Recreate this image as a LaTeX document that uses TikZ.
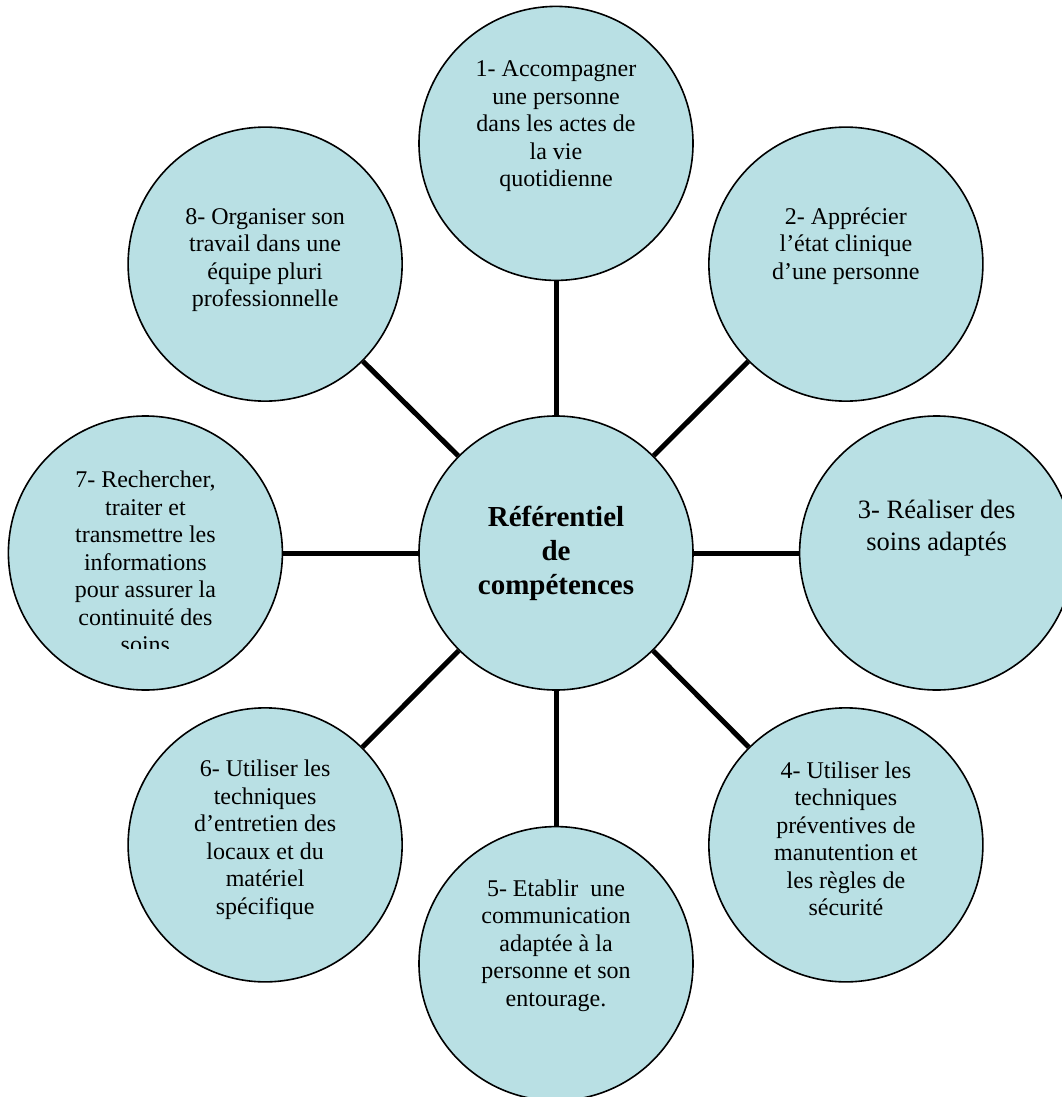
\documentclass[tikz,border=0pt]{standalone}
\usepackage{fontspec}
\setmainfont{Liberation Serif}
\usetikzlibrary{positioning}
\definecolor{bubblefill}{RGB}{185,224,228}

\begin{document}
\begin{tikzpicture}[x=1pt,y=-1pt,
    bubble/.style={circle,draw=black,line width=1.6pt,fill=bubblefill,
                   minimum size=274pt,inner sep=0pt},
    comptext/.style={align=center,font=\fontsize{24}{27.5}\selectfont},
    link/.style={line width=5pt}]
  \useasboundingbox (0,0) rectangle (1062,1097);

  % centre
  \node[bubble,align=center,font=\bfseries\fontsize{29}{34}\selectfont] (ref) at (556,553)
        {R\'ef\'erentiel\\de\\comp\'etences};

  % competences
  \node[bubble] (c1) [above=134pt of ref]               {};
  \node[bubble] (c2) [above right=94pt and 95pt of ref] {};
  \node[bubble] (c3) [right=105pt of ref]               {};
  \node[bubble] (c4) [below right=97pt and 95pt of ref] {};
  \node[bubble] (c5) [below=135pt of ref]               {};
  \node[bubble] (c6) [below left=97pt and 96pt of ref]  {};
  \node[bubble] (c7) [left=135pt of ref]                {};
  \node[bubble] (c8) [above left=94pt and 96pt of ref]  {};

  \node[comptext] (t1) at ([yshift=17pt]c1.center)
        {1- Accompagner\\une personne\\dans les actes de\\la vie\\quotidienne};
  \node[comptext] (t2) at ([yshift=18pt]c2.center)
        {2- Appr\'ecier\\l’\'etat clinique\\d’une personne};
  \node[comptext,font=\fontsize{26.5}{31.7}\selectfont] (t3) at ([yshift=25pt]c3.center)
        {3- R\'ealiser des\\soins adapt\'es};
  \node[comptext] (t4) at ([yshift=6pt]c4.center)
        {4- Utiliser les\\techniques\\pr\'eventives de\\manutention et\\les r\`egles de\\s\'ecurit\'e};
  \node[comptext] (t5) at ([yshift=18pt]c5.center)
        {5- Etablir~ une\\communication\\adapt\'ee \`a la\\personne et son\\entourage.};
  \node[comptext] (t6) at ([yshift=5pt]c6.center)
        {6- Utiliser les\\techniques\\d’entretien des\\locaux et du\\mat\'eriel\\sp\'ecifique};
  \begin{scope}
    \clip (0,400) rectangle (300,648);
    \node[comptext] (t7) at ([yshift=-9pt]c7.center)
          {7- Rechercher,\\traiter et\\transmettre les\\informations\\pour assurer la\\continuit\'e des\\soins};
  \end{scope}
  \node[comptext] (t8) at ([yshift=4pt]c8.center)
        {8- Organiser son\\travail dans une\\\'equipe pluri\\professionnelle};

  \path[link]
        (ref) edge (c1)
              edge (c2)
              edge (c3)
              edge (c4)
              edge (c5)
              edge (c6)
              edge (c7)
              edge (c8);
\end{tikzpicture}
\end{document}
